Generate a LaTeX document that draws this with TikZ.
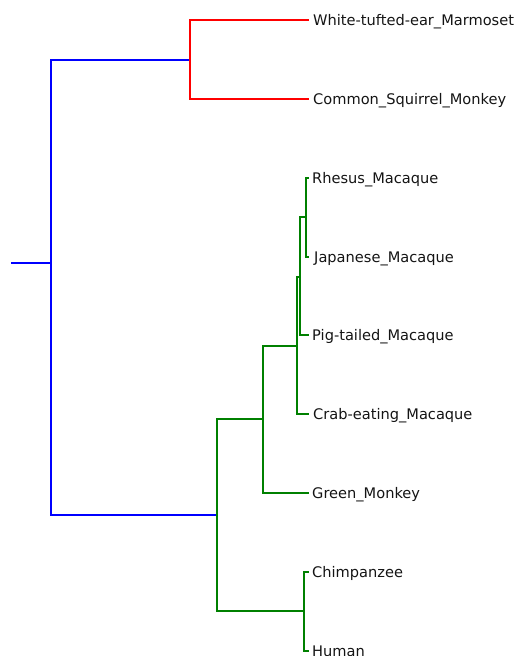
\documentclass[tikz,border=0pt]{standalone}
\usepackage{fontspec}
\setmainfont{DejaVu Sans}
\definecolor{treered}{RGB}{255,0,0}
\definecolor{treeblue}{RGB}{0,0,255}
\definecolor{treegreen}{RGB}{0,128,0}
\definecolor{labelgray}{RGB}{20,20,20}
\begin{document}
\begin{tikzpicture}[x=1bp,y=-1bp,
  branch/.style={line width=1.2bp},
  leaflabel/.style={anchor=base west,inner sep=0pt,font=\fontsize{14.6bp}{16bp}\selectfont,text=labelgray}]
\useasboundingbox (0,0) rectangle (518,656);
% internal nodes
\coordinate (root0) at (11,263);
\coordinate (n0) at (51,263);
\coordinate (nNW) at (190,60);
\coordinate (nOld) at (217,515);
\coordinate (nCerc) at (263,419);
\coordinate (nMac) at (297,346);
\coordinate (nMacB) at (300,277);
\coordinate (nMacC) at (306,217);
\coordinate (nHom) at (304,611);
% leaf tips
\coordinate (tMar) at (309,20);
\coordinate (tSq) at (309,99);
\coordinate (tRh) at (309,178);
\coordinate (tJa) at (309,257);
\coordinate (tPi) at (309,335);
\coordinate (tCr) at (309,414);
\coordinate (tGr) at (309,493);
\coordinate (tCh) at (309,572);
\coordinate (tHu) at (309,651);
% labels
\node[leaflabel] (lMar) at (313,25.5) {White-tufted-ear\_Marmoset};
\node[leaflabel] (lSq) at (313,104.5) {Common\_Squirrel\_Monkey};
\node[leaflabel] (lRh) at (312,183.5) {Rhesus\_Macaque};
\node[leaflabel] (lJa) at (314,262.5) {Japanese\_Macaque};
\node[leaflabel] (lPi) at (312,340.5) {Pig-tailed\_Macaque};
\node[leaflabel] (lCr) at (313,419.5) {Crab-eating\_Macaque};
\node[leaflabel] (lGr) at (312,498.5) {Green\_Monkey};
\node[leaflabel] (lCh) at (312,577.5) {Chimpanzee};
\node[leaflabel] (lHu) at (312,656.5) {Human};
% blue branches
\draw[branch,treeblue] (root0) -- (n0);
\draw[branch,treeblue] (n0) |- (nNW);
\draw[branch,treeblue] (n0) |- (nOld);
% red branches
\draw[branch,treered] (nNW) |- (tMar);
\draw[branch,treered] (nNW) |- (tSq);
% green branches
\draw[branch,treegreen] (nOld) |- (nCerc);
\draw[branch,treegreen] (nOld) |- (nHom);
\draw[branch,treegreen] (nCerc) |- (nMac);
\draw[branch,treegreen] (nCerc) |- (tGr);
\draw[branch,treegreen] (nMac) |- (nMacB);
\draw[branch,treegreen] (nMac) |- (tCr);
\draw[branch,treegreen] (nMacB) |- (nMacC);
\draw[branch,treegreen] (nMacB) |- (tPi);
\draw[branch,treegreen] (nMacC) |- (tRh);
\draw[branch,treegreen] (nMacC) |- (tJa);
\draw[branch,treegreen] (nHom) |- (tCh);
\draw[branch,treegreen] (nHom) |- (tHu);
\end{tikzpicture}
\end{document}
